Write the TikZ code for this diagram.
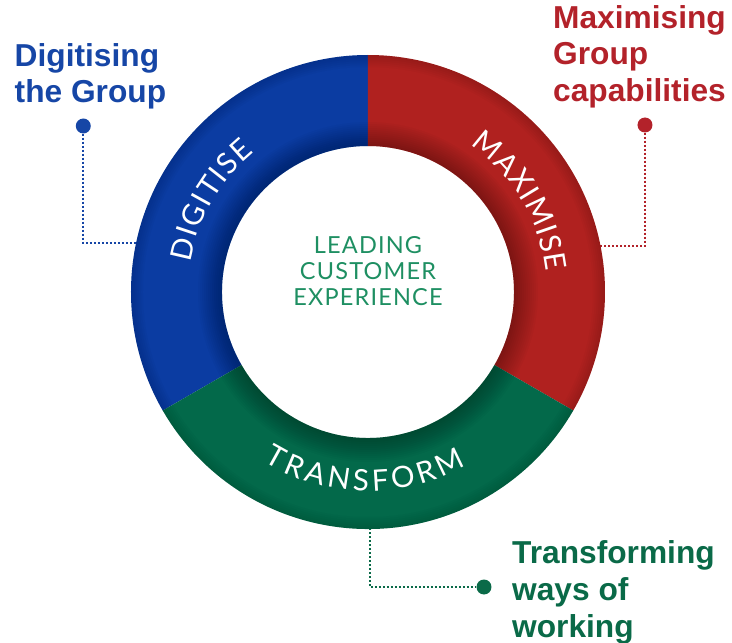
\documentclass[tikz,border=0pt]{standalone}
\usepackage{fontspec}
\setmainfont{Liberation Sans}
\newfontfamily\ringfont{Lato}
\usetikzlibrary{decorations.text}
\definecolor{ringblue}{HTML}{0B3CA2}
\definecolor{ringred}{HTML}{B0211F}
\definecolor{ringgreen}{HTML}{03694A}
\definecolor{lblblue}{HTML}{1646A6}
\definecolor{lblred}{HTML}{B3222A}
\definecolor{lblgreen}{HTML}{0A6A48}
\definecolor{ctrgreen}{HTML}{1E8F62}
\tikzset{
  lbl/.style={font=\fontsize{31.7}{37}\selectfont\bfseries, anchor=base west, inner sep=0pt},
  dotnode/.style={circle, inner sep=0pt, minimum size=15pt},
  conn/.style={line width=2pt, dash pattern=on 2pt off 2pt},
  ringtext/.style={decorate, decoration={text along path, text color=white, text align=fit to path, text={|\ringfont\fontsize{29.5}{30}\selectfont|#1}}}
}
\begin{document}
\begin{tikzpicture}[x=1pt,y=1pt]
\useasboundingbox (-368,-351) rectangle (364,292);
% dots and connectors (behind ring)
\node[dotnode, fill=lblblue] (bdot) at (-284.7,166) {};
\node[dotnode, fill=lblred] (rdot) at (277,167) {};
\node[dotnode, fill=lblgreen] (gdot) at (116,-295) {};
\coordinate (bring) at (-215,49);
\coordinate (rring) at (215,46.3);
\coordinate (gring) at (2,-220);
\draw[conn, lblblue] (bdot) |- (bring);
\draw[conn, lblred] (rdot) |- (rring);
\draw[conn, lblgreen] (gring) |- (gdot);
% ring
\fill[ringblue] (90:237pt) arc[start angle=90,end angle=210,radius=237pt] -- (210:146pt) arc[start angle=210,end angle=90,radius=146pt] -- cycle;
\fill[ringred] (90:237pt) arc[start angle=90,end angle=-30,radius=237pt] -- (-30:146pt) arc[start angle=-30,end angle=90,radius=146pt] -- cycle;
\fill[ringgreen] (210:237pt) arc[start angle=210,end angle=330,radius=237pt] -- (330:146pt) arc[start angle=330,end angle=210,radius=146pt] -- cycle;
% soft shadows
\foreach \w in {2,4,...,24}
  \draw[black, opacity=0.025, line width=\w pt] (0,0) circle[radius=146pt+\w pt/2];
\foreach \w in {2,4,...,12}
  \draw[black, opacity=0.02, line width=\w pt] (0,0) circle[radius=237pt-\w pt/2];
% ring texts
\path[ringtext=DIGITISE] (170.5:180pt) arc[start angle=170.5,end angle=129,radius=180pt];
\path[ringtext=MAXIMISE] (55:179pt) arc[start angle=55,end angle=6.5,radius=179pt];
\path[ringtext=TRANSFORM] (238.5:199pt) arc[start angle=238.5,end angle=299.5,radius=199pt];
% centre text
\node[anchor=north, inner sep=0pt, align=center, text=ctrgreen,
  font={\ringfont\fontsize{23.5}{25.7}\selectfont\addfontfeatures{LetterSpace=5}}] (centre) at (0,55.3)
  {LEADING\\CUSTOMER\\EXPERIENCE};
% labels
\node[lbl, text=lblblue] (b1) at (-353.5,225.5) {Digitising};
\node[lbl, text=lblblue] (b2) at (-353.5,189) {the Group};
\node[lbl, text=lblred] (r1) at (185,263.5) {Maximising};
\node[lbl, text=lblred] (r2) at (185,227) {Group};
\node[lbl, text=lblred] (r3) at (185,190.3) {capabilities};
\node[lbl, text=lblgreen] (g1) at (144,-271) {Transforming};
\node[lbl, text=lblgreen] (g2) at (144,-308) {ways of};
\node[lbl, text=lblgreen] (g3) at (144,-345) {working};
\end{tikzpicture}
\end{document}
